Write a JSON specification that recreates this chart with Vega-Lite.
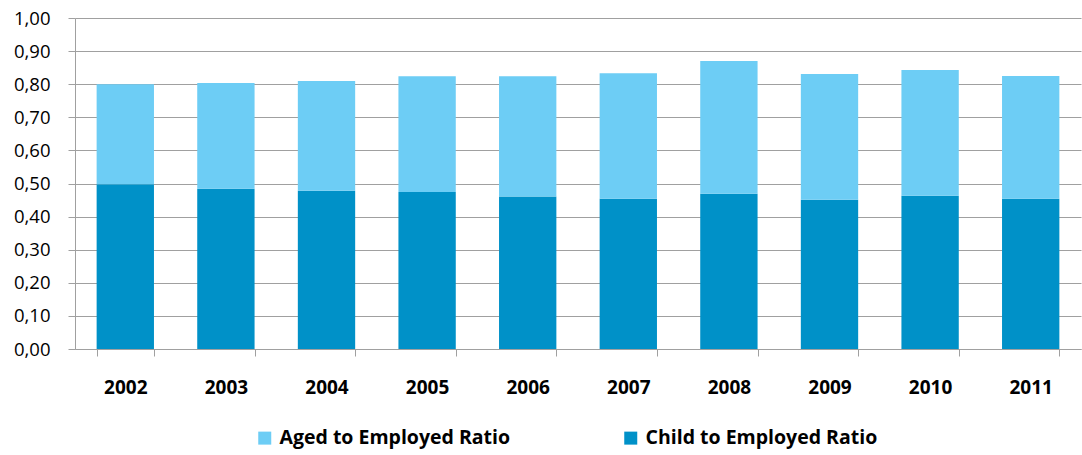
{
  "$schema": "https://vega.github.io/schema/vega-lite/v6.json",
  "width": 1006,
  "height": 331,
  "autosize": {"type": "none"},
  "padding": {"left": 75, "top": 18, "right": 1, "bottom": 106},
  "background": "white",
  "data": {
    "values": [
      {"year": "2002", "series": "Child to Employed Ratio", "ord": 1, "value": 0.498},
      {"year": "2003", "series": "Child to Employed Ratio", "ord": 1, "value": 0.484},
      {"year": "2004", "series": "Child to Employed Ratio", "ord": 1, "value": 0.478},
      {"year": "2005", "series": "Child to Employed Ratio", "ord": 1, "value": 0.474},
      {"year": "2006", "series": "Child to Employed Ratio", "ord": 1, "value": 0.461},
      {"year": "2007", "series": "Child to Employed Ratio", "ord": 1, "value": 0.454},
      {"year": "2008", "series": "Child to Employed Ratio", "ord": 1, "value": 0.469},
      {"year": "2009", "series": "Child to Employed Ratio", "ord": 1, "value": 0.451},
      {"year": "2010", "series": "Child to Employed Ratio", "ord": 1, "value": 0.463},
      {"year": "2011", "series": "Child to Employed Ratio", "ord": 1, "value": 0.454},
      {"year": "2002", "series": "Aged to Employed Ratio", "ord": 2, "value": 0.302},
      {"year": "2003", "series": "Aged to Employed Ratio", "ord": 2, "value": 0.320},
      {"year": "2004", "series": "Aged to Employed Ratio", "ord": 2, "value": 0.332},
      {"year": "2005", "series": "Aged to Employed Ratio", "ord": 2, "value": 0.350},
      {"year": "2006", "series": "Aged to Employed Ratio", "ord": 2, "value": 0.363},
      {"year": "2007", "series": "Aged to Employed Ratio", "ord": 2, "value": 0.379},
      {"year": "2008", "series": "Aged to Employed Ratio", "ord": 2, "value": 0.401},
      {"year": "2009", "series": "Aged to Employed Ratio", "ord": 2, "value": 0.380},
      {"year": "2010", "series": "Aged to Employed Ratio", "ord": 2, "value": 0.380},
      {"year": "2011", "series": "Aged to Employed Ratio", "ord": 2, "value": 0.371}
    ]
  },
  "config": {
    "view": {"stroke": null},
    "font": "Open Sans"
  },
  "mark": {"type": "bar"},
  "encoding": {
    "x": {
      "field": "year",
      "type": "nominal",
      "scale": {"paddingInner": 0.43, "paddingOuter": 0.215},
      "axis": {
        "title": null,
        "labelAngle": 0,
        "labelFont": "Open Sans",
        "labelFontWeight": "bold",
        "labelFontSize": 19,
        "labelColor": "#000000",
        "labelPadding": 22,
        "tickBand": "extent",
        "tickSize": 7,
        "tickColor": "#A0A0A0",
        "domainColor": "#A0A0A0",
        "grid": false
      }
    },
    "y": {
      "field": "value",
      "type": "quantitative",
      "stack": "zero",
      "scale": {"domain": [0, 1]},
      "axis": {
        "title": null,
        "values": [0, 0.1, 0.2, 0.3, 0.4, 0.5, 0.6, 0.7, 0.8, 0.9, 1.0],
        "labelExpr": "replace(format(datum.value, '.2f'), '.', ',')",
        "labelFont": "Open Sans",
        "labelFontSize": 18.5,
        "labelColor": "#000000",
        "labelPadding": 18,
        "tickSize": 7,
        "tickColor": "#A0A0A0",
        "domainColor": "#A0A0A0",
        "gridColor": "#A0A0A0",
        "gridWidth": 1
      }
    },
    "color": {
      "field": "series",
      "type": "nominal",
      "scale": {
        "domain": ["Aged to Employed Ratio", "Child to Employed Ratio"],
        "range": ["#6DCDF5", "#0091C8"]
      },
      "legend": {
        "title": null,
        "orient": "none",
        "legendX": 180,
        "legendY": 410,
        "direction": "horizontal",
        "symbolType": "square",
        "symbolSize": 169,
        "symbolStrokeWidth": 0,
        "symbolOffset": 0,
        "labelOffset": 5,
        "labelLimit": 0,
        "labelFont": "Open Sans",
        "labelFontWeight": "bold",
        "labelFontSize": 19.5,
        "labelColor": "#000000",
        "columnPadding": 110
      }
    },
    "order": {"field": "ord", "type": "quantitative"}
  }
}
